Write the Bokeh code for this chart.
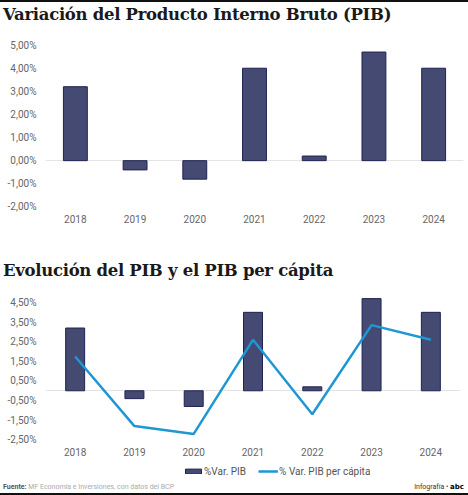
from bokeh.plotting import figure
from bokeh.layouts import column
from bokeh.models import Div, FixedTicker, Range1d, Legend, LegendItem, ColumnDataSource
from bokeh.embed import file_html
from bokeh.resources import INLINE

years = ["2018", "2019", "2020", "2021", "2022", "2023", "2024"]
pib = [3.2, -0.4, -0.8, 4.0, 0.2, 4.7, 4.0]
pib_pc = [1.75, -1.8, -2.2, 2.6, -1.2, 3.35, 2.6]

ticks1 = [-2, -1, 0, 1, 2, 3, 4, 5]
tick_labels1 = ["-2,00%", "-1,00%", "0,00%", "1,00%", "2,00%", "3,00%", "4,00%", "5,00%"]
ticks2 = [-2.5, -1.5, -0.5, 0.5, 1.5, 2.5, 3.5, 4.5]
tick_labels2 = ["-2,50%", "-1,50%", "-0,50%", "0,50%", "1,50%", "2,50%", "3,50%", "4,50%"]

title1 = "Variación del Producto Interno Bruto (PIB)"
title2 = "Evolución del PIB y el PIB per cápita"
legend_labels = ["%Var. PIB", "% Var. PIB per cápita"]
source_text = "MF Economía e Inversiones, con datos del BCP"

BAR = "#454a72"
BAR_LINE = "#1e2352"
LINE = "#1f97d4"
TICK = "#666666"
TITLE_FONT = "DejaVu Serif"
W = 468

src = ColumnDataSource(dict(year=years, pib=pib, pc=pib_pc))


def style(p, ticks, labels):
    p.outline_line_color = None
    p.xgrid.grid_line_color = None
    p.ygrid.ticker = FixedTicker(ticks=[0])
    p.ygrid.grid_line_color = "#e4e4e4"
    p.ygrid.grid_line_width = 1
    p.yaxis.ticker = FixedTicker(ticks=ticks)
    p.yaxis.major_label_overrides = {t: l for t, l in zip(ticks, labels)}
    for ax in (p.xaxis, p.yaxis):
        ax.axis_line_color = None
        ax.major_tick_line_color = None
        ax.major_tick_out = 0
        ax.major_tick_in = 0
        ax.minor_tick_line_color = None
        ax.minor_tick_out = 0
        ax.major_label_text_color = TICK
        ax.major_label_text_font = "Roboto"
        ax.major_label_text_font_size = "10px"
    p.yaxis.major_label_standoff = 9
    p.xaxis.major_label_standoff = 3


def title_div(text, h):
    return Div(text=text, width=W, height=h, margin=0,
               styles={"font-family": TITLE_FONT, "font-weight": "bold",
                       "font-size": "16.5px", "color": "#1a1a1a",
                       "line-height": f"{h}px", "white-space": "nowrap",
                       "letter-spacing": "-0.3px", "padding-left": "3px",
                       "box-sizing": "border-box"})


top_line = Div(text="", width=W, height=2, margin=0, styles={"background": "#111111"})

p1 = figure(x_range=years, frame_width=418, frame_height=171, output_backend="svg",
            toolbar_location=None, min_border_left=42, min_border_right=8,
            min_border_top=12, min_border_bottom=47)
p1.y_range = Range1d(-2.2, 5.2)
p1.vbar(x="year", top="pib", bottom=0, width=0.4, source=src,
        fill_color=BAR, line_color=BAR_LINE, line_width=1)
style(p1, ticks1, tick_labels1)

p2 = figure(x_range=years, frame_width=415, frame_height=150, output_backend="svg",
            toolbar_location=None, min_border_left=45, min_border_right=8,
            min_border_top=10, min_border_bottom=18)
p2.y_range = Range1d(-2.74, 4.91)
p2.vbar(x="year", top="pib", bottom=0, width=0.32, source=src,
        fill_color=BAR, line_color=BAR_LINE, line_width=1)
p2.line(x="year", y="pc", source=src, line_color=LINE, line_width=2.5)
style(p2, ticks2, tick_labels2)

# legend strip (swatch renderers sit outside the visible range)
p3 = figure(width=W, height=18, output_backend="svg", toolbar_location=None,
            x_range=Range1d(0, 1), y_range=Range1d(0, 1),
            min_border_left=0, min_border_right=0, min_border_top=0, min_border_bottom=0)
p3.axis.visible = False
p3.grid.grid_line_color = None
p3.outline_line_color = None
swatch = ColumnDataSource(dict(x=[-10, -9], y=[-10, -10]))
lb = p3.vbar(x="x", top="y", width=0.1, source=swatch, fill_color=BAR, line_color=BAR_LINE)
ll = p3.line(x="x", y="y", source=swatch, line_color=LINE, line_width=2.5)
leg = Legend(items=[LegendItem(label=legend_labels[0], renderers=[lb]),
                    LegendItem(label=legend_labels[1], renderers=[ll])],
             orientation="horizontal", location=(138, 3),
             border_line_color=None, background_fill_alpha=0,
             label_text_font="Roboto", label_text_font_size="10px",
             label_text_color="#555555", glyph_width=20, glyph_height=6,
             label_standoff=1, spacing=12, padding=0, margin=0,
             label_height=12)
p3.add_layout(leg)

footer = Div(
    text=("<div style='display:flex;justify-content:space-between;align-items:center;height:13px;width:464px;padding-left:3px;'>"
          "<span><b style='color:#555'>Fuente:</b> <span style='color:#aaa'>" + source_text + "</span></span>"
          "<span style='color:#333'>Infografía • <b style='color:#000;font-family:DejaVu Sans;'>abc</b></span></div>"),
    width=W, height=15, margin=0,
    styles={"font-family": "Roboto", "font-size": "7px",
            "border-bottom": "2px solid #111111", "box-sizing": "border-box"})

layout = column(top_line, title_div(title1, 26), p1, title_div(title2, 26), p2, p3, footer, spacing=0)

open("out.html", "w").write(file_html(layout, INLINE))
